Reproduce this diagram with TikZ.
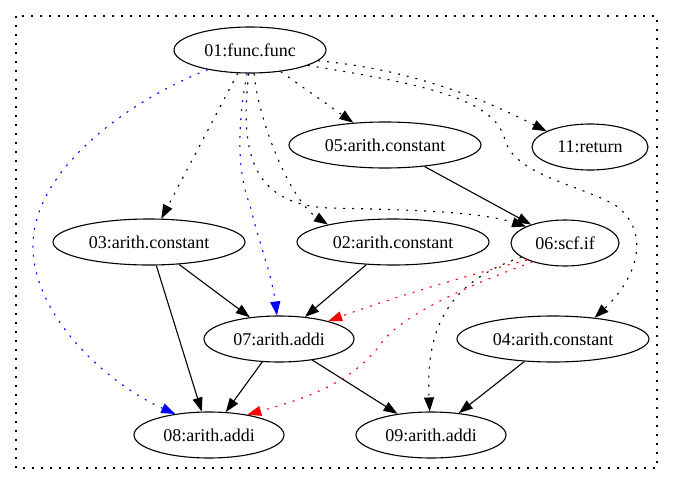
\documentclass[tikz,border=0pt]{standalone}
\usepackage{fontspec}
\setmainfont{Liberation Serif}
\usetikzlibrary{shapes.geometric,arrows.meta}
\tikzstyle{op}=[ellipse,draw,line width=1.1pt,inner sep=0pt,minimum height=46pt,font=\fontsize{18}{21}\selectfont]
\tikzstyle{dataflow}=[line width=1.1pt,-{Triangle[length=14pt,width=10pt]}]
\tikzstyle{nested}=[dataflow,dash pattern=on 2pt off 7pt]
\newcommand{\opnode}[4][192]{
	\node[op,minimum width=#1] (#2) at (#3) {#4};
}

\begin{document}
\begin{tikzpicture}[x=1pt,y=1pt]
	\useasboundingbox (0,0) rectangle (673,-485);
	\draw[line width=1.1pt,dash pattern=on 2pt off 7pt] (16,-16) rectangle (657,-468);
	% ops, one px per pt
	\opnode[152]{n01}{250,-50}{01:func.func}
	\opnode{n05}{385,-145}{05:arith.constant}
	\opnode[116]{n11}{590,-147}{11:return}
	\opnode{n03}{149,-242}{03:arith.constant}
	\opnode{n02}{393,-242}{02:arith.constant}
	\opnode[108]{n06}{565,-243}{06:scf.if}
	\opnode[150]{n07}{279,-339}{07:arith.addi}
	\opnode{n04}{553,-339}{04:arith.constant}
	\opnode[150]{n08}{209,-435}{08:arith.addi}
	\opnode[150]{n09}{431,-435}{09:arith.addi}
	% operands
	\draw[dataflow] (n05) -- (n06);
	\draw[dataflow] (n03) -- (n07);
	\draw[dataflow] (n03) -- (n08);
	\draw[dataflow] (n02) -- (n07);
	\draw[dataflow] (n07) -- (n08);
	\draw[dataflow] (n07) -- (n09);
	\draw[dataflow] (n04) -- (n09);
	% nesting
	\draw[nested] (n01) -- (n03);
	\draw[nested] (n01) -- (n05);
	\draw[nested] (n01.-9) .. controls (420,-70) and (495,-105) .. (n11.160);
	\draw[nested] (n01.-15) .. controls (430,-85) and (495,-100) .. (505,-140)
		.. controls (515,-175) and (580,-185) .. (615,-205)
		.. controls (650,-230) and (640,-275) .. (n04.27);
	\draw[nested] (n01.-80) .. controls (258,-120) and (290,-200) .. (n02.165);
	\draw[nested] (n01.-93) .. controls (240,-150) and (250,-205) .. (330,-208)
		.. controls (420,-210) and (480,-212) .. (n06.157);
	\draw[nested] (n06.198) .. controls (455,-280) and (425,-320) .. (n09.93);
	% values across the region
	\draw[nested,blue] (n01.-97) .. controls (238,-120) and (236,-170) .. (250,-205)
		.. controls (258,-240) and (272,-275) .. (n07.95);
	\draw[nested,blue] (n01.205) .. controls (130,-100) and (30,-170) .. (33,-250)
		.. controls (36,-320) and (110,-385) .. (n08.148);
	\draw[nested,red] (n06.204) .. controls (470,-275) and (400,-295) .. (n07.20);
	\draw[nested,red] (n06.210) .. controls (470,-285) and (400,-315) .. (380,-345)
		.. controls (350,-385) and (300,-400) .. (n08.28);
\end{tikzpicture}
\end{document}
